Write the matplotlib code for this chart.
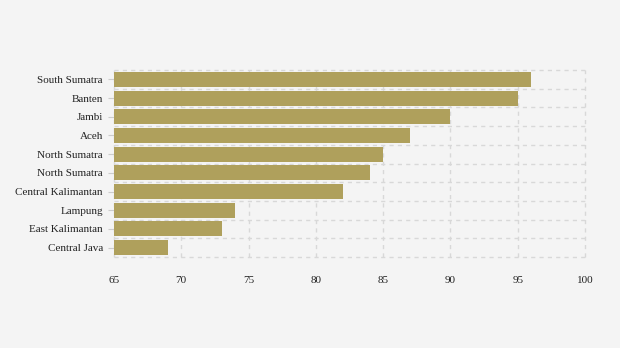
import matplotlib
matplotlib.use("Agg")
import matplotlib.pyplot as plt
import numpy as np

provinces = ["South Sumatra", "Banten", "Jambi", "Aceh", "North Sumatra", "North Sumatra",
             "Central Kalimantan", "Lampung", "East Kalimantan", "Central Java"]
values = [96, 95, 90, 87, 85, 84, 82, 74, 73, 69]
xticks = [65, 70, 75, 80, 85, 90, 95, 100]

plt.rcParams['font.family'] = ['Liberation Serif', 'DejaVu Serif']
bg = "#f4f4f4"
fig = plt.figure(figsize=(6.2, 3.48), dpi=100, facecolor=bg)
ax = fig.add_axes([114/620, 1-257/348, (585-114)/620, (257-70)/348])
ax.set_facecolor(bg)

y = np.arange(len(provinces))
xmin = xticks[0]
ax.barh(y, [v - xmin for v in values], left=xmin, height=0.8, color="#afa05c", zorder=2)
ax.set_xlim(xticks[0], xticks[-1])
ax.set_ylim(len(provinces) - 0.5, -0.5)
ax.set_yticks(y)
ax.set_yticklabels(provinces, fontsize=8, color="#222222")
ax.set_yticks(np.arange(len(provinces) + 1) - 0.5, minor=True)
ax.set_xticks(xticks)
ax.set_xticklabels([str(t) for t in xticks], fontsize=8, color="#222222")
ax.tick_params(axis='x', length=0, pad=14)
ax.tick_params(axis='y', which='major', length=4, color="#cccccc", pad=4)
ax.tick_params(axis='y', which='minor', length=0)
ax.grid(axis='x', which='major', linestyle=(0, (3, 3)), color="#d8d8d8", linewidth=1, zorder=0)
ax.grid(axis='y', which='minor', linestyle=(0, (3, 3)), color="#d8d8d8", linewidth=1, zorder=0)
ax.grid(axis='y', which='major', visible=False)
lines = [t.gridline for t in ax.xaxis.get_major_ticks()] + [t.gridline for t in ax.yaxis.get_minor_ticks()]
for gl in lines:
    gl.set_clip_on(False)
for s in ax.spines.values():
    s.set_visible(False)

fig.savefig("out.png", dpi=100, facecolor=bg)
